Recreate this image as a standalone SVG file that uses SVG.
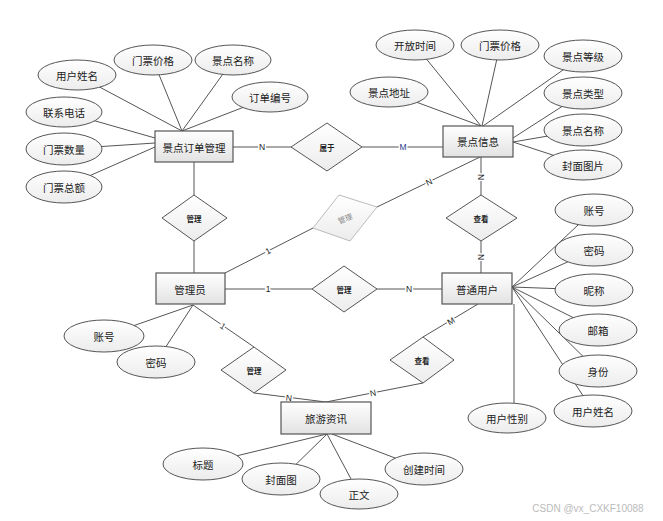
<svg xmlns="http://www.w3.org/2000/svg" width="663" height="521" viewBox="0 0 663 521">
<defs>
<linearGradient id="g" x1="0" y1="0" x2="0" y2="1">
<stop offset="0" stop-color="#ffffff"/>
<stop offset="1" stop-color="#e2e2e2"/>
</linearGradient>
<linearGradient id="g2" x1="0" y1="0" x2="0" y2="1">
<stop offset="0" stop-color="#ffffff"/>
<stop offset="1" stop-color="#ececec"/>
</linearGradient>
</defs>
<style>
.ent{fill:url(#g);stroke:#555;stroke-width:1.2}
.att{fill:url(#g2);stroke:#555;stroke-width:1}
.rel{fill:url(#g2);stroke:#555;stroke-width:1}
.ln{stroke:#555;stroke-width:1;fill:none}
text{font-family:"Noto Sans CJK SC","Liberation Sans",sans-serif;fill:#222;text-anchor:middle;dominant-baseline:central}
.t{font-size:10.5px}
.r{font-size:7.5px;font-weight:bold}
.c{font-size:8.5px;font-family:"Liberation Sans","Noto Sans CJK SC",sans-serif;stroke:#fff;stroke-width:3;paint-order:stroke}
</style>
<rect width="663" height="521" fill="#fff"/>
<g id="connectors">
<line class="ln" x1="77" y1="75" x2="182" y2="131"/>
<line class="ln" x1="153" y1="60" x2="182" y2="131"/>
<line class="ln" x1="233" y1="60" x2="182" y2="131"/>
<line class="ln" x1="270" y1="97" x2="182" y2="131"/>
<line class="ln" x1="64" y1="112" x2="155" y2="138"/>
<line class="ln" x1="64" y1="149" x2="155" y2="143"/>
<line class="ln" x1="64" y1="187" x2="155" y2="147"/>
<line class="ln" x1="389" y1="92" x2="481" y2="126"/>
<line class="ln" x1="415" y1="45" x2="481" y2="126"/>
<line class="ln" x1="500" y1="45" x2="482" y2="126"/>
<line class="ln" x1="583" y1="56" x2="483" y2="126"/>
<line class="ln" x1="583" y1="93" x2="513" y2="138"/>
<line class="ln" x1="583" y1="130" x2="513" y2="142"/>
<line class="ln" x1="583" y1="165" x2="513" y2="142"/>
<line class="ln" x1="594" y1="210" x2="512" y2="287"/>
<line class="ln" x1="594" y1="250" x2="512" y2="287"/>
<line class="ln" x1="594" y1="290" x2="512" y2="287"/>
<line class="ln" x1="598" y1="330" x2="512" y2="287"/>
<line class="ln" x1="598" y1="371" x2="512" y2="287"/>
<line class="ln" x1="593" y1="411" x2="512" y2="287"/>
<line class="ln" x1="514" y1="304" x2="514" y2="410"/>
<line class="ln" x1="104" y1="336" x2="193" y2="305"/>
<line class="ln" x1="156" y1="362" x2="193" y2="305"/>
<line class="ln" x1="203" y1="464" x2="327" y2="434"/>
<line class="ln" x1="281" y1="479" x2="327" y2="434"/>
<line class="ln" x1="359" y1="494" x2="327" y2="434"/>
<line class="ln" x1="424" y1="469" x2="332" y2="434"/>
<line class="ln" x1="233" y1="147" x2="291" y2="147"/>
<line class="ln" x1="362" y1="147" x2="443" y2="147"/>
<line class="ln" x1="194" y1="162" x2="194" y2="195"/>
<line class="ln" x1="194" y1="241" x2="194" y2="273"/>
<line class="ln" x1="225" y1="273" x2="313" y2="228"/>
<line class="ln" x1="377" y1="207" x2="480" y2="157"/>
<line class="ln" x1="481" y1="157" x2="481" y2="195"/>
<line class="ln" x1="481" y1="241" x2="481" y2="273"/>
<line class="ln" x1="225" y1="289" x2="312" y2="289"/>
<line class="ln" x1="377" y1="289" x2="442" y2="289"/>
<line class="ln" x1="478" y1="304" x2="423" y2="337"/>
<line class="ln" x1="423" y1="383" x2="326" y2="402"/>
<line class="ln" x1="254" y1="393" x2="326" y2="402"/>
<line class="ln" x1="193" y1="305" x2="254" y2="347"/>
<text class="c" x="262" y="147">N</text>
<text class="c" x="403" y="147" style="fill:#1f3a8a">M</text>
<text class="c" x="268" y="251" transform="rotate(-27 268 251)">1</text>
<text class="c" x="429" y="182" transform="rotate(-25 429 182)">N</text>
<text class="c" x="481" y="177" transform="rotate(90 481 177)">N</text>
<text class="c" x="481" y="257" transform="rotate(90 481 257)">N</text>
<text class="c" x="268" y="289">1</text>
<text class="c" x="409" y="289">N</text>
<text class="c" x="451" y="321" transform="rotate(-31 451 321)">M</text>
<text class="c" x="373" y="393" transform="rotate(-11 373 393)">N</text>
<text class="c" x="289" y="398" transform="rotate(7 289 398)">N</text>
<text class="c" x="223" y="326" transform="rotate(34 223 326)">1</text>
</g>
<g id="n-order"><rect class="ent" x="155" y="131" width="78" height="31"/><text class="t" x="194" y="147">景点订单管理</text></g>
<g id="n-spot"><rect class="ent" x="443" y="126" width="70" height="31"/><text class="t" x="478" y="141">景点信息</text></g>
<g id="n-admin"><rect class="ent" x="156" y="273" width="69" height="31"/><text class="t" x="190" y="289">管理员</text></g>
<g id="n-user"><rect class="ent" x="442" y="273" width="70" height="31"/><text class="t" x="477" y="289">普通用户</text></g>
<g id="n-news"><rect class="ent" x="281" y="402" width="90" height="32"/><text class="t" x="326" y="418">旅游资讯</text></g>
<g id="r-belong"><polygon class="rel" points="291,147 327,123 362,147 327,171"/><text class="r" x="327" y="147">属于</text></g>
<g id="r-manage1"><polygon class="rel" points="162,218 194,195 227,218 194,241"/><text class="r" x="194" y="218">管理</text></g>
<g id="r-manage2"><polygon points="313,228 339,195 377,207 350,241" fill="url(#g2)" stroke="#bbb" stroke-width="1"/><text x="345" y="218" transform="rotate(-22 345 218)" style="font-size:7.5px;fill:#888">管理</text></g>
<g id="r-view1"><polygon class="rel" points="446,218 481,195 517,218 481,241"/><text class="r" x="481" y="218">查看</text></g>
<g id="r-manage3"><polygon class="rel" points="312,289 344,266 377,289 344,312"/><text class="r" x="344" y="289">管理</text></g>
<g id="r-manage4"><polygon class="rel" points="221,370 254,347 286,370 254,393"/><text class="r" x="254" y="370">管理</text></g>
<g id="r-view2"><polygon class="rel" points="390,360 423,337 454,360 423,383"/><text class="r" x="422" y="360">查看</text></g>
<g id="a-order">
<ellipse class="att" cx="77" cy="75" rx="39" ry="15"/><text class="t" x="77" y="75">用户姓名</text>
<ellipse class="att" cx="153" cy="60" rx="39" ry="15"/><text class="t" x="153" y="60">门票价格</text>
<ellipse class="att" cx="233" cy="60" rx="38" ry="15"/><text class="t" x="233" y="60">景点名称</text>
<ellipse class="att" cx="270" cy="97" rx="38" ry="15"/><text class="t" x="270" y="97">订单编号</text>
<ellipse class="att" cx="64" cy="112" rx="38" ry="15"/><text class="t" x="64" y="112">联系电话</text>
<ellipse class="att" cx="64" cy="149" rx="38" ry="16"/><text class="t" x="64" y="149">门票数量</text>
<ellipse class="att" cx="64" cy="187" rx="38" ry="16"/><text class="t" x="64" y="187">门票总额</text>
</g>
<g id="a-spot">
<ellipse class="att" cx="415" cy="45" rx="39" ry="15"/><text class="t" x="415" y="45">开放时间</text>
<ellipse class="att" cx="500" cy="45" rx="39" ry="15"/><text class="t" x="500" y="45">门票价格</text>
<ellipse class="att" cx="583" cy="56" rx="39" ry="16"/><text class="t" x="583" y="56">景点等级</text>
<ellipse class="att" cx="389" cy="92" rx="39" ry="15"/><text class="t" x="389" y="92">景点地址</text>
<ellipse class="att" cx="583" cy="93" rx="39" ry="16"/><text class="t" x="583" y="93">景点类型</text>
<ellipse class="att" cx="583" cy="130" rx="39" ry="16"/><text class="t" x="583" y="130">景点名称</text>
<ellipse class="att" cx="583" cy="165" rx="39" ry="15"/><text class="t" x="583" y="165">封面图片</text>
</g>
<g id="a-user">
<ellipse class="att" cx="594" cy="210" rx="39" ry="16"/><text class="t" x="594" y="210">账号</text>
<ellipse class="att" cx="594" cy="250" rx="39" ry="16"/><text class="t" x="594" y="250">密码</text>
<ellipse class="att" cx="594" cy="290" rx="39" ry="16"/><text class="t" x="594" y="290">昵称</text>
<ellipse class="att" cx="598" cy="330" rx="39" ry="16"/><text class="t" x="598" y="330">邮箱</text>
<ellipse class="att" cx="598" cy="371" rx="39" ry="16"/><text class="t" x="598" y="371">身份</text>
<ellipse class="att" cx="593" cy="411" rx="39" ry="16"/><text class="t" x="593" y="411">用户姓名</text>
<ellipse class="att" cx="507" cy="418" rx="39" ry="15"/><text class="t" x="507" y="418">用户性别</text>
</g>
<g id="a-admin">
<ellipse class="att" cx="104" cy="336" rx="40" ry="16"/><text class="t" x="104" y="336">账号</text>
<ellipse class="att" cx="156" cy="362" rx="39" ry="16"/><text class="t" x="156" y="362">密码</text>
</g>
<g id="a-news">
<ellipse class="att" cx="203" cy="464" rx="40" ry="16"/><text class="t" x="203" y="464">标题</text>
<ellipse class="att" cx="281" cy="479" rx="39" ry="16"/><text class="t" x="281" y="479">封面图</text>
<ellipse class="att" cx="359" cy="494" rx="39" ry="15"/><text class="t" x="359" y="494">正文</text>
<ellipse class="att" cx="424" cy="469" rx="39" ry="16"/><text class="t" x="424" y="469">创建时间</text>
</g>
<text x="588" y="508" style="font-size:10px;fill:#bbb;font-family:'Liberation Sans',sans-serif">CSDN @vx_CXKF10088</text>
</svg>
